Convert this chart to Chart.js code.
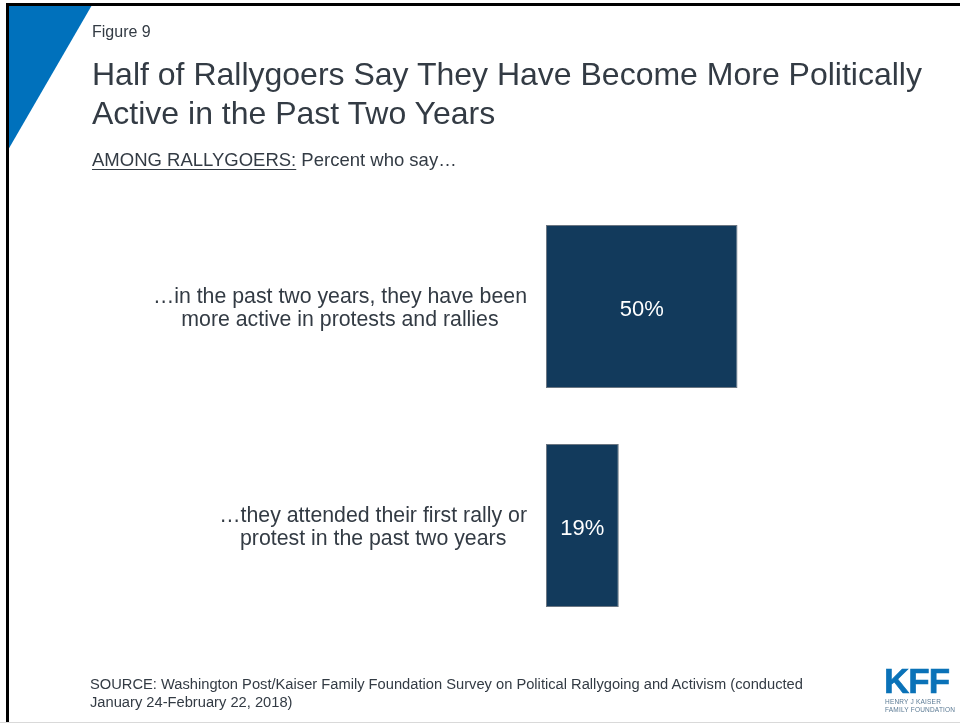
<!DOCTYPE html>
<html><head><meta charset="utf-8">
<script src="https://cdn.jsdelivr.net/npm/chart.js@4/dist/chart.umd.min.js"></script>
<style>
body{margin:0;background:#fff;}
#wrap{position:relative;width:960px;height:725px;overflow:hidden;font-family:"Liberation Sans",Arial,sans-serif;color:#333b44;background:#fff;}
#chart{position:absolute;left:0;top:0;}
.abs{position:absolute;white-space:nowrap;}
#tri{position:absolute;left:8px;top:5px;width:84px;height:145px;background:#0071bc;clip-path:polygon(0 0,100% 0,0 100%);}
#topline{position:absolute;left:6px;top:3px;width:954px;height:3px;background:#000;}
#leftline{position:absolute;left:6px;top:3px;width:3px;height:719px;background:#000;}
#botline{position:absolute;left:0;top:722px;width:960px;height:1px;background:#d9d9d9;}
#fig{left:92px;top:24px;font-size:16px;line-height:16px;}
#title{left:92px;top:55px;font-size:32px;line-height:39px;}
#sub{left:92px;top:150px;font-size:18.5px;line-height:20px;}
#sub u{text-decoration-thickness:1px;text-underline-offset:3px;}
#src{left:90px;top:675px;font-size:14.7px;line-height:18px;}
#kff{left:884px;top:663px;font-size:35px;line-height:35px;font-weight:bold;color:#0a72b8;letter-spacing:-1px;-webkit-text-stroke:0.6px #0a72b8;}
#kffs{left:885px;top:698px;font-size:6.5px;line-height:7.5px;color:#5b7a94;letter-spacing:0.2px;}
</style></head>
<body>
<div id="wrap">
<canvas id="chart" width="960" height="725"></canvas>
<div id="tri"></div>
<div id="topline"></div>
<div id="leftline"></div>
<div id="botline"></div>
<div class="abs" id="fig">Figure 9</div>
<div class="abs" id="title">Half of Rallygoers Say They Have Become More Politically<br>Active in the Past Two Years</div>
<div class="abs" id="sub"><u>AMONG RALLYGOERS:</u> Percent who say…</div>
<div class="abs" id="src">SOURCE: Washington Post/Kaiser Family Foundation Survey on Political Rallygoing and Activism (conducted<br>January 24-February 22, 2018)</div>
<div class="abs" id="kff">KFF</div>
<div class="abs" id="kffs">HENRY J KAISER<br>FAMILY FOUNDATION</div>
</div>
<script>
const categories = [
  ["…in the past two years, they have been", "more active in protests and rallies"],
  ["…they attended their first rally or", "protest in the past two years"]
];
const values = [50, 19];
const valueLabels = ["50%", "19%"];

const catLabelPlugin = {
  id: 'catLabels',
  afterDatasetsDraw(chart) {
    const ctx = chart.ctx;
    const ys = chart.scales.y;
    const rightX = chart.chartArea.left - 19;
    ctx.save();
    ctx.font = '21.3px "Liberation Sans", Arial, sans-serif';
    ctx.fillStyle = '#333b44';
    ctx.textAlign = 'center';
    ctx.textBaseline = 'middle';
    const lh = 23;
    categories.forEach((lines, i) => {
      const y = ys.getPixelForValue(i) + 2;
      const maxW = Math.max(...lines.map(l => ctx.measureText(l).width));
      const cx = rightX - maxW / 2;
      lines.forEach((l, k) => {
        ctx.fillText(l, cx, y + (k - (lines.length - 1) / 2) * lh);
      });
    });
    ctx.restore();
  }
};
const valLabelPlugin = {
  id: 'valLabels',
  afterDatasetsDraw(chart) {
    const ctx = chart.ctx;
    const meta = chart.getDatasetMeta(0);
    ctx.save();
    ctx.font = '22px "Liberation Sans", Arial, sans-serif';
    ctx.fillStyle = '#ffffff';
    ctx.textAlign = 'center';
    ctx.textBaseline = 'middle';
    meta.data.forEach((bar, i) => {
      ctx.fillText(valueLabels[i], (bar.x + bar.base) / 2, bar.y + 3);
    });
    ctx.restore();
  }
};

new Chart(document.getElementById('chart'), {
  type: 'bar',
  data: {
    labels: categories,
    datasets: [{
      data: values,
      backgroundColor: '#123a5c',
      borderColor: '#6b7682',
      borderWidth: 1,
      borderSkipped: false,
      categoryPercentage: 1,
      barPercentage: 0.744
    }]
  },
  options: {
    indexAxis: 'y',
    responsive: false,
    animation: false,
    layout: { padding: { left: 546, right: 31, top: 197, bottom: 90 } },
    plugins: { legend: { display: false }, tooltip: { enabled: false } },
    scales: {
      x: { display: false, min: 0, max: 100 },
      y: { display: false }
    }
  },
  plugins: [catLabelPlugin, valLabelPlugin]
});
</script>
</body></html>
